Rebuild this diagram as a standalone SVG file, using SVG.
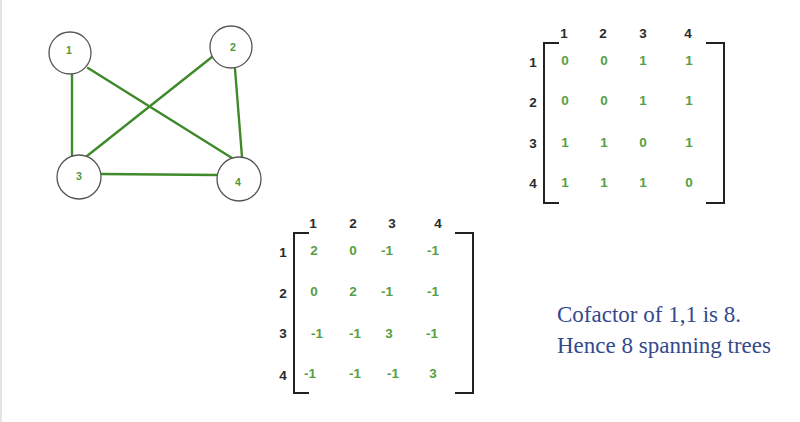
<svg xmlns="http://www.w3.org/2000/svg" width="800" height="422" viewBox="0 0 800 422">
<style>
.node circle{fill:#fff;stroke:#555;stroke-width:1.3}
.node text{font-family:"Liberation Sans",Arial,sans-serif;font-size:10.5px;font-weight:bold;fill:#4a9a3a;text-anchor:middle}
.edge{stroke:#3f8a2a;stroke-width:2.4;fill:none;stroke-linecap:round}
.hd{font-family:"Liberation Sans",Arial,sans-serif;font-size:13.5px;font-weight:bold;fill:#2a2a2a;text-anchor:middle}
.v{font-family:"Liberation Sans",Arial,sans-serif;font-size:13.5px;font-weight:bold;fill:#55a044;text-anchor:middle}
.br{stroke:#222;stroke-width:2;fill:none}
.note{font-family:"Liberation Serif","Times New Roman",serif;font-size:23px;fill:#34498c}
</style>
<rect x="0" y="0" width="800" height="422" fill="#fff"/>
<rect x="0" y="0" width="2" height="422" fill="#e4e4e4"/>
<g id="connectors">
<line class="edge" x1="72" y1="75" x2="72" y2="155"/>
<line class="edge" x1="88" y1="68" x2="232" y2="158"/>
<line class="edge" x1="212" y1="57" x2="87" y2="156"/>
<line class="edge" x1="235" y1="69" x2="242" y2="157"/>
<line class="edge" x1="102" y1="174" x2="217" y2="175"/>
</g>
<g id="node1" class="node"><circle cx="70" cy="53" r="21"/><text x="69" y="54">1</text></g>
<g id="node2" class="node"><circle cx="231" cy="47" r="21"/><text x="233" y="51">2</text></g>
<g id="node3" class="node"><circle cx="79" cy="177" r="22"/><text x="79" y="180">3</text></g>
<g id="node4" class="node"><circle cx="239" cy="179" r="22"/><text x="238" y="186">4</text></g>
<g id="adjacency">
<path class="br" d="M559,43 H544 V203 H559"/>
<path class="br" d="M706,43 H724 V203 H706"/>
<text class="hd" x="564" y="38">1</text><text class="hd" x="603" y="38">2</text><text class="hd" x="643" y="38">3</text><text class="hd" x="688" y="38">4</text>
<text class="hd" x="533" y="67">1</text><text class="hd" x="533" y="107">2</text><text class="hd" x="533" y="148">3</text><text class="hd" x="533" y="188">4</text>
<text class="v" x="565" y="65">0</text><text class="v" x="604" y="65">0</text><text class="v" x="643" y="65">1</text><text class="v" x="689" y="65">1</text>
<text class="v" x="565" y="105">0</text><text class="v" x="604" y="105">0</text><text class="v" x="643" y="105">1</text><text class="v" x="689" y="105">1</text>
<text class="v" x="565" y="147">1</text><text class="v" x="604" y="147">1</text><text class="v" x="643" y="147">0</text><text class="v" x="689" y="147">1</text>
<text class="v" x="565" y="187">1</text><text class="v" x="604" y="187">1</text><text class="v" x="643" y="187">1</text><text class="v" x="689" y="187">0</text>
</g>
<g id="laplacian">
<path class="br" d="M309,233 H294 V393 H309"/>
<path class="br" d="M455,233 H473 V393 H455"/>
<text class="hd" x="313" y="228">1</text><text class="hd" x="353" y="228">2</text><text class="hd" x="392" y="228">3</text><text class="hd" x="438" y="228">4</text>
<text class="hd" x="283" y="257">1</text><text class="hd" x="283" y="298">2</text><text class="hd" x="283" y="338">3</text><text class="hd" x="283" y="380">4</text>
<text class="v" x="314" y="255">2</text><text class="v" x="353" y="255">0</text><text class="v" x="387" y="255">-1</text><text class="v" x="433" y="255">-1</text>
<text class="v" x="314" y="296">0</text><text class="v" x="353" y="296">2</text><text class="v" x="387" y="296">-1</text><text class="v" x="433" y="296">-1</text>
<text class="v" x="317" y="338">-1</text><text class="v" x="355" y="338">-1</text><text class="v" x="389" y="338">3</text><text class="v" x="432" y="338">-1</text>
<text class="v" x="310" y="378">-1</text><text class="v" x="355" y="378">-1</text><text class="v" x="393" y="378">-1</text><text class="v" x="433" y="378">3</text>
</g>
<g id="note">
<text class="note" x="557" y="322">Cofactor of 1,1 is 8.</text>
<text class="note" x="557" y="353">Hence 8 spanning trees</text>
</g>
</svg>
